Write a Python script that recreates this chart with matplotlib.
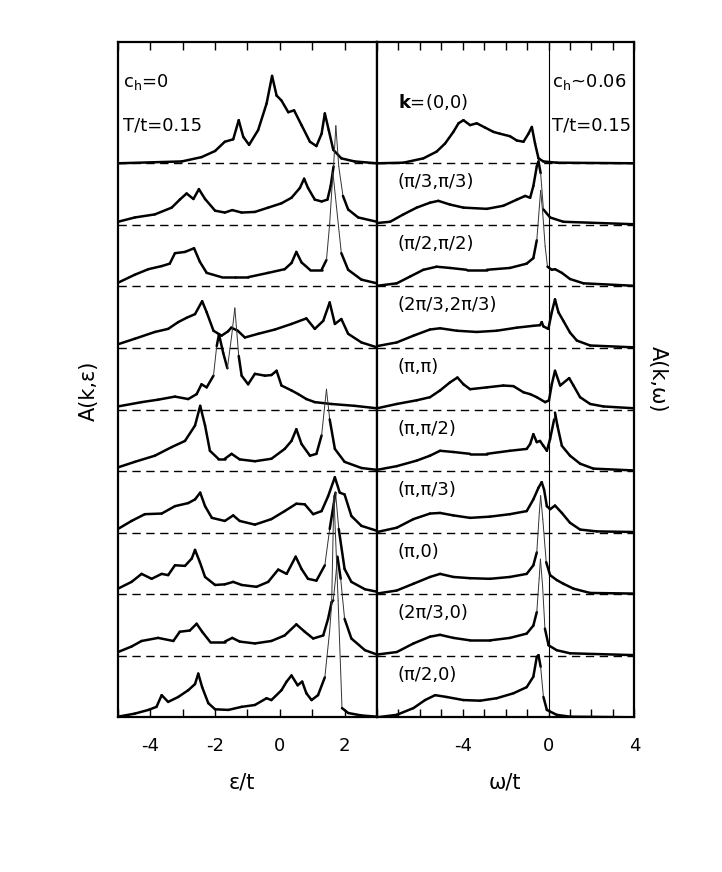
import numpy as np
import matplotlib
matplotlib.use("Agg")
import matplotlib.pyplot as plt
from matplotlib.collections import LineCollection
from matplotlib.ticker import MultipleLocator, FixedLocator

plt.rcParams['font.family'] = ['DejaVu Sans']
plt.rcParams['mathtext.default'] = 'regular'
plt.rcParams['axes.unicode_minus'] = False

# k labels, top curve first
k_labels = [r"$\mathbf{k}$=(0,0)", "(π/3,π/3)", "(π/2,π/2)", "(2π/3,2π/3)", "(π,π)",
            "(π,π/2)", "(π,π/3)", "(π,0)", "(2π/3,0)", "(π/2,0)"]

# left panel A(k,eps), c_h = 0  (heights in units of the offset between curves)
eps_0 = [-5, -3.03, -2.42, -2.0, -1.7, -1.44, -1.27, -1.13, -0.95, -0.67, -0.41, -0.24, -0.10, 0.05,
         0.26, 0.44, 0.67, 0.93, 1.13, 1.29, 1.39, 1.51, 1.65, 1.90, 2.31, 3.0]
A_0 = [0, 0.03, 0.10, 0.20, 0.35, 0.39, 0.70, 0.43, 0.30, 0.54, 0.97, 1.42, 1.10, 1.02,
       0.83, 0.86, 0.62, 0.35, 0.28, 0.48, 0.81, 0.54, 0.22, 0.08, 0.03, 0.0]
eps_1 = [-5, -4.48, -3.86, -3.34, -3.09, -2.88, -2.67, -2.5, -2.31, -2.0, -1.7, -1.47, -1.18, -0.77,
         -0.36, 0.05, 0.36, 0.62, 0.75, 0.87, 1.08, 1.29, 1.47, 1.57, 1.66, 1.73, 1.82, 1.95, 2.11, 2.42, 3.0]
A_1 = [0.05, 0.12, 0.17, 0.28, 0.41, 0.51, 0.42, 0.58, 0.42, 0.23, 0.20, 0.24, 0.20, 0.21,
       0.28, 0.35, 0.44, 0.60, 0.75, 0.60, 0.41, 0.38, 0.41, 0.63, 0.95, 1.61, 0.95, 0.47, 0.25, 0.12, 0.05]
eps_2 = [-5, -4.48, -4.06, -3.65, -3.4, -3.24, -2.93, -2.65, -2.47, -2.26, -1.8, -1.39, -0.98, -0.36,
         0.15, 0.36, 0.51, 0.67, 0.93, 1.29, 1.44, 1.54, 1.64, 1.75, 1.90, 2.11, 2.52, 3.0]
A_2 = [0.06, 0.19, 0.28, 0.33, 0.37, 0.54, 0.56, 0.62, 0.40, 0.22, 0.15, 0.15, 0.15, 0.22,
       0.28, 0.38, 0.56, 0.39, 0.27, 0.27, 0.43, 1.02, 1.85, 1.29, 0.54, 0.27, 0.11, 0.05]
eps_3 = [-5, -4.48, -3.86, -3.45, -3.14, -2.88, -2.62, -2.4, -2.26, -2.05, -1.8, -1.6, -1.5, -1.3,
         -1.08, -0.67, -0.15, 0.36, 0.82, 1.08, 1.34, 1.54, 1.70, 1.90, 2.11, 2.52, 3.0]
A_3 = [0.06, 0.15, 0.26, 0.31, 0.42, 0.49, 0.55, 0.76, 0.58, 0.28, 0.20, 0.27, 0.33, 0.28,
       0.17, 0.23, 0.30, 0.39, 0.48, 0.31, 0.44, 0.74, 0.39, 0.47, 0.23, 0.09, 0.01]
eps_4 = [-5, -4.27, -3.76, -3.24, -2.83, -2.57, -2.42, -2.26, -2.05, -1.95, -1.88, -1.75, -1.62, -1.49,
         -1.39, -1.27, -1.18, -0.98, -0.77, -0.46, -0.26, -0.10, 0.05, 0.36, 0.57, 0.82, 1.08, 1.59, 2.31, 3.0]
A_4 = [0.05, 0.12, 0.16, 0.21, 0.17, 0.25, 0.41, 0.36, 0.55, 1.03, 1.22, 0.92, 0.67, 1.19,
       1.65, 0.87, 0.55, 0.41, 0.58, 0.55, 0.56, 0.63, 0.39, 0.31, 0.25, 0.17, 0.12, 0.09, 0.06, 0.02]
eps_5 = [-5, -4.48, -3.86, -3.34, -2.93, -2.62, -2.46, -2.31, -2.16, -1.9, -1.7, -1.49, -1.24, -0.77,
         -0.26, 0.15, 0.36, 0.51, 0.67, 0.93, 1.13, 1.29, 1.44, 1.54, 1.70, 2.0, 2.52, 3.0]
A_5 = [0.06, 0.15, 0.25, 0.39, 0.49, 0.74, 1.06, 0.74, 0.33, 0.20, 0.20, 0.28, 0.19, 0.16,
       0.20, 0.36, 0.49, 0.68, 0.44, 0.25, 0.28, 0.58, 1.33, 0.84, 0.36, 0.15, 0.05, 0.02]
eps_6 = [-5, -4.58, -4.17, -3.65, -3.24, -2.83, -2.62, -2.46, -2.31, -2.1, -1.7, -1.44, -1.24, -0.77,
         -0.26, 0.15, 0.51, 0.77, 1.03, 1.29, 1.49, 1.70, 1.85, 2.0, 2.21, 2.52, 3.0]
A_6 = [0.06, 0.19, 0.30, 0.31, 0.43, 0.48, 0.54, 0.65, 0.43, 0.24, 0.19, 0.28, 0.19, 0.13,
       0.22, 0.35, 0.47, 0.46, 0.30, 0.35, 0.59, 0.90, 0.65, 0.62, 0.27, 0.11, 0.03]
eps_7 = [-5, -4.58, -4.27, -3.96, -3.65, -3.45, -3.24, -2.93, -2.72, -2.62, -2.47, -2.31, -2.0, -1.7,
         -1.44, -1.18, -0.72, -0.36, -0.05, 0.21, 0.49, 0.67, 0.87, 1.13, 1.39, 1.54, 1.72, 1.82, 2.0,
         2.21, 2.63, 3.0]
A_7 = [0.09, 0.20, 0.33, 0.25, 0.33, 0.31, 0.47, 0.46, 0.58, 0.72, 0.52, 0.28, 0.15, 0.16,
       0.20, 0.15, 0.12, 0.20, 0.40, 0.33, 0.61, 0.41, 0.25, 0.22, 0.47, 1.06, 1.65, 1.06, 0.41,
       0.20, 0.08, 0.04]
eps_8 = [-5, -4.58, -4.27, -3.76, -3.29, -3.09, -2.78, -2.57, -2.4, -2.16, -1.7, -1.47, -1.24, -0.77,
         -0.26, 0.15, 0.51, 0.77, 1.03, 1.34, 1.49, 1.60, 1.65, 1.72, 1.78, 1.88, 2.0, 2.21, 2.63, 3.0]
A_8 = [0.06, 0.15, 0.24, 0.29, 0.24, 0.39, 0.41, 0.52, 0.39, 0.23, 0.23, 0.29, 0.23, 0.20,
       0.24, 0.33, 0.51, 0.39, 0.28, 0.33, 0.60, 0.87, 0.90, 1.25, 1.61, 1.25, 0.60, 0.28, 0.09, 0.02]
eps_9 = [-5, -4.48, -4.06, -3.81, -3.65, -3.45, -3.14, -2.83, -2.62, -2.52, -2.4, -2.21, -2.0, -1.59,
         -1.18, -0.77, -0.41, -0.26, 0.05, 0.21, 0.36, 0.55, 0.69, 0.82, 0.98, 1.18, 1.39, 1.54, 1.60,
         1.67, 1.80, 1.92, 2.11, 2.52, 3.0]
A_9 = [0.01, 0.06, 0.12, 0.17, 0.36, 0.25, 0.33, 0.44, 0.54, 0.71, 0.49, 0.23, 0.13, 0.12,
       0.17, 0.20, 0.31, 0.28, 0.44, 0.58, 0.68, 0.52, 0.58, 0.39, 0.28, 0.36, 0.65, 1.41, 1.84,
       3.6, 1.9, 0.15, 0.07, 0.03, 0.01]

# right panel A(k,omega), c_h ~ 0.06
om_0 = [-8, -6.77, -5.84, -5.22, -4.83, -4.44, -4.2, -3.97, -3.66, -3.35, -2.96, -2.57, -2.26, -1.8,
        -1.48, -1.17, -0.94, -0.78, -0.63, -0.47, -0.24, 0.38, 4]
B_0 = [0, 0.01, 0.08, 0.19, 0.32, 0.51, 0.65, 0.70, 0.62, 0.65, 0.58, 0.51, 0.48, 0.44,
       0.37, 0.35, 0.48, 0.59, 0.32, 0.08, 0.03, 0.01, 0]
om_1 = [-8, -7.39, -6.77, -6.15, -5.53, -5.14, -4.6, -3.97, -2.88, -2.11, -1.48, -1.09, -0.86, -0.71,
        -0.55, -0.47, -0.37, -0.24, 0.07, 0.69, 4]
B_1 = [0.03, 0.05, 0.17, 0.28, 0.36, 0.39, 0.33, 0.28, 0.26, 0.31, 0.41, 0.47, 0.44, 0.63,
       0.95, 1.03, 0.84, 0.25, 0.12, 0.05, 0.01]
om_2 = [-8, -7.08, -6.46, -5.84, -5.22, -4.6, -3.82, -2.88, -1.8, -1.02, -0.71, -0.55, -0.43, -0.37,
        -0.27, -0.16, -0.05, 0.15, 0.3, 0.62, 1.0, 1.63, 4]
B_2 = [0.01, 0.05, 0.16, 0.27, 0.32, 0.30, 0.27, 0.27, 0.30, 0.37, 0.46, 0.75, 1.29, 1.56,
       1.18, 0.65, 0.32, 0.27, 0.28, 0.22, 0.12, 0.05, 0.01]
om_3 = [-8, -7.08, -6.3, -5.53, -5.06, -4.28, -3.35, -2.42, -1.48, -0.71, -0.4, -0.32, -0.24, -0.01,
        0.15, 0.3, 0.46, 0.69, 1.0, 1.32, 1.94, 4]
B_3 = [0.03, 0.09, 0.20, 0.30, 0.32, 0.28, 0.26, 0.28, 0.33, 0.36, 0.37, 0.42, 0.35, 0.31,
       0.58, 0.79, 0.58, 0.44, 0.25, 0.12, 0.04, 0.01]
om_4 = [-8, -7.08, -6.15, -5.53, -5.06, -4.6, -4.25, -3.97, -3.66, -2.88, -2.11, -1.64, -1.17, -0.86,
        -0.55, -0.16, 0.02, 0.15, 0.3, 0.54, 0.96, 1.16, 1.47, 1.94, 2.56, 4]
B_4 = [0.02, 0.09, 0.15, 0.20, 0.31, 0.44, 0.52, 0.41, 0.33, 0.36, 0.39, 0.38, 0.28, 0.25,
       0.20, 0.12, 0.15, 0.41, 0.63, 0.39, 0.51, 0.39, 0.20, 0.09, 0.05, 0.02]
om_5 = [-8, -7.08, -6.15, -5.53, -5.06, -4.44, -3.66, -2.88, -1.8, -1.02, -0.86, -0.71, -0.55, -0.4,
        -0.24, -0.08, 0.07, 0.26, 0.3, 0.41, 0.62, 1.0, 1.47, 2.09, 4]
B_5 = [0.02, 0.08, 0.17, 0.25, 0.33, 0.31, 0.28, 0.28, 0.33, 0.36, 0.44, 0.60, 0.47, 0.49,
       0.41, 0.33, 0.52, 0.84, 0.95, 0.74, 0.41, 0.25, 0.12, 0.04, 0.01]
om_6 = [-8, -7.08, -6.3, -5.53, -5.06, -4.44, -3.66, -2.73, -1.8, -1.02, -0.71, -0.47, -0.32, -0.21,
        -0.08, 0.07, 0.3, 0.62, 1.0, 1.47, 2.25, 4]
B_6 = [0.01, 0.08, 0.22, 0.31, 0.32, 0.28, 0.24, 0.26, 0.30, 0.35, 0.54, 0.73, 0.82, 0.70,
       0.43, 0.38, 0.44, 0.32, 0.16, 0.05, 0.02, 0.01]
om_7 = [-8, -7.08, -6.3, -5.53, -5.06, -4.44, -3.66, -2.73, -1.8, -1.02, -0.71, -0.55, -0.43, -0.37,
        -0.27, -0.11, 0.07, 0.38, 0.69, 1.16, 1.94, 4]
B_7 = [0.01, 0.06, 0.17, 0.28, 0.33, 0.28, 0.26, 0.25, 0.28, 0.33, 0.47, 0.68, 1.33, 1.6,
       1.22, 0.52, 0.31, 0.23, 0.17, 0.09, 0.02, 0.01]
om_8 = [-8, -7.08, -6.3, -5.53, -5.06, -4.44, -3.66, -2.73, -1.8, -1.02, -0.71, -0.55, -0.44, -0.38,
        -0.28, -0.17, 0.0, 0.38, 1.0, 4]
B_8 = [0.02, 0.06, 0.20, 0.31, 0.34, 0.29, 0.25, 0.25, 0.29, 0.36, 0.49, 0.71, 1.25, 1.57,
       1.14, 0.44, 0.17, 0.09, 0.04, 0.01]
om_9 = [-8, -7.08, -6.3, -5.76, -5.29, -4.75, -3.97, -3.19, -2.42, -1.64, -1.02, -0.71, -0.55, -0.47,
        -0.37, -0.24, -0.08, 0.38, 1.0, 4]
B_9 = [0.0, 0.04, 0.15, 0.28, 0.36, 0.33, 0.28, 0.27, 0.31, 0.39, 0.49, 0.66, 0.98, 1.01,
       0.82, 0.33, 0.12, 0.04, 0.01, 0.0]

left_curves = [(eps_0, A_0), (eps_1, A_1), (eps_2, A_2), (eps_3, A_3), (eps_4, A_4),
               (eps_5, A_5), (eps_6, A_6), (eps_7, A_7), (eps_8, A_8), (eps_9, A_9)]
right_curves = [(om_0, B_0), (om_1, B_1), (om_2, B_2), (om_3, B_3), (om_4, B_4),
                (om_5, B_5), (om_6, B_6), (om_7, B_7), (om_8, B_8), (om_9, B_9)]

n = len(k_labels)
y_top = 10.97

fig = plt.figure(figsize=(7.22, 8.72), dpi=100)
ax1 = fig.add_axes([0.1634, 0.1774, 0.3587, 0.7744])
ax2 = fig.add_axes([0.5222, 0.1774, 0.3564, 0.7744])

ax1.set_xlim(-5, 3)
ax2.set_xlim(-8, 4)
for ax in (ax1, ax2):
    ax.set_ylim(0, y_top)
    ax.set_yticks([])
    for s in ax.spines.values():
        s.set_linewidth(1.6)
    ax.tick_params(axis='x', which='both', direction='in', top=True, bottom=True,
                   length=6, width=1.0, labelsize=13, pad=14)
    ax.xaxis.set_minor_locator(MultipleLocator(1))
ax1.xaxis.set_major_locator(FixedLocator([-4, -2, 0, 2]))
ax2.xaxis.set_major_locator(FixedLocator([-4, 0, 4]))
ax2.axvline(0, color='black', lw=0.8, zorder=2)


def draw_curve(ax, x, h, offset):
    # steep parts of the spectra come out as thin lines, like the original
    x = np.asarray(x, float)
    y = np.asarray(h, float) + offset
    pts = ax.transData.transform(np.column_stack([x, y]))
    segs = np.stack([np.column_stack([x[:-1], y[:-1]]), np.column_stack([x[1:], y[1:]])], axis=1)
    dx = np.abs(np.diff(pts[:, 0])) + 1e-9
    dy = np.abs(np.diff(pts[:, 1]))
    steep = dy / dx > 7.0
    widths = np.where(steep, 0.7, 1.8)
    colors = ['#333333' if s else 'black' for s in steep]
    lc = LineCollection(segs, linewidths=widths, colors=colors, capstyle='round',
                        joinstyle='round', zorder=3)
    ax.add_collection(lc)


for i in range(n):
    off = n - 1 - i
    if off > 0:
        for ax in (ax1, ax2):
            ax.axhline(off, color='black', lw=1.0, dashes=(6, 4), zorder=1)
    draw_curve(ax1, left_curves[i][0], left_curves[i][1], off)
    draw_curve(ax2, right_curves[i][0], right_curves[i][1], off)

# k labels in the right panel
for i, lab in enumerate(k_labels):
    if i == 0:
        yl = 10.0
    else:
        yl = (n - i) - 0.31
    ax2.text(-7.04, yl, lab, fontsize=13, ha='left', va='center')

ax1.text(-4.85, 10.24, "c$_h$=0", fontsize=13, ha='left', va='baseline')
ax1.text(-4.85, 9.54, "T/t=0.15", fontsize=13, ha='left', va='baseline')
ax2.text(0.16, 10.24, "c$_h$~0.06", fontsize=13, ha='left', va='baseline')
ax2.text(0.16, 9.54, "T/t=0.15", fontsize=13, ha='left', va='baseline')

fig.text(242 / 722, 1 - 782 / 872, "ε/t", fontsize=15, ha='center', va='center')
fig.text(505 / 722, 1 - 782 / 872, "ω/t", fontsize=15, ha='center', va='center')
fig.text(89 / 722, 1 - 391 / 872, "A(k,ε)", fontsize=15, ha='center', va='center', rotation=90)
fig.text(658 / 722, 1 - 379 / 872, "A(k,ω)", fontsize=15, ha='center', va='center', rotation=-90)

fig.savefig("out.png", dpi=100)
